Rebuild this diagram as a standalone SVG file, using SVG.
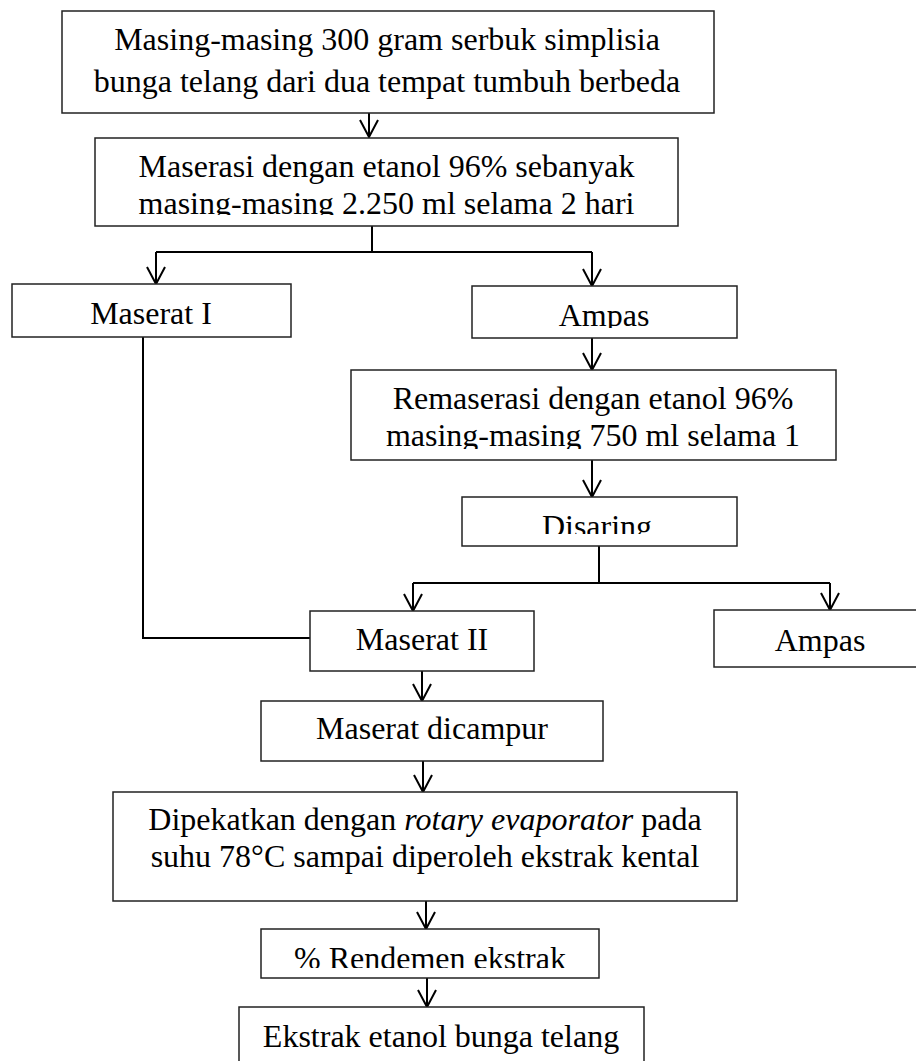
<svg xmlns="http://www.w3.org/2000/svg" width="916" height="1061" viewBox="0 0 916 1061">
<style>
.box{fill:#fff;stroke:#222;stroke-width:1.5}
.t{font-family:"Liberation Serif","Times New Roman",serif;font-size:32px;fill:#000;text-anchor:middle}
.c{fill:none;stroke:#000;stroke-width:2}
.a{marker-end:url(#arr)}
</style>
<defs>
<marker id="arr" markerUnits="userSpaceOnUse" viewBox="-19 -11 21 22" refX="0" refY="0" markerWidth="21" markerHeight="22" orient="auto">
<path d="M-17,-9 L0,0 L-17,9" fill="none" stroke="#000" stroke-width="2"/>
</marker>
<clipPath id="cb2"><rect x="95" y="138" width="583" height="77"/></clipPath>
<clipPath id="cam"><rect x="472" y="286" width="265" height="42"/></clipPath>
<clipPath id="crm"><rect x="351" y="370" width="485" height="79"/></clipPath>
<clipPath id="cds"><rect x="462" y="497" width="275" height="37"/></clipPath>
<clipPath id="crd"><rect x="261" y="929" width="338" height="39"/></clipPath>
</defs>
<rect width="916" height="1061" fill="#fff"/>
<g id="connectors">
<path class="c a" d="M369,113 V137"/>
<path class="c" d="M372,226 V252 M156,252 H592"/>
<path class="c a" d="M156,252 V284"/>
<path class="c a" d="M592,252 V286"/>
<path class="c a" d="M592,338 V370"/>
<path class="c a" d="M592,460 V497"/>
<path class="c" d="M599,546 V583 M413,583 H830"/>
<path class="c a" d="M413,583 V611"/>
<path class="c a" d="M830,583 V610"/>
<path class="c" d="M143,337 V638 H310"/>
<path class="c a" d="M422,671 V701"/>
<path class="c a" d="M423,761 V792"/>
<path class="c a" d="M426,901 V929"/>
<path class="c a" d="M427,978 V1007"/>
</g>
<g id="n1"><rect class="box" x="62" y="11" width="652" height="102"/>
<text class="t" x="387" y="50">Masing-masing 300 gram serbuk simplisia</text>
<text class="t" x="387" y="92">bunga telang dari dua tempat tumbuh berbeda</text></g>
<g id="n2"><rect class="box" x="95" y="138" width="583" height="88"/>
<g clip-path="url(#cb2)"><text class="t" x="386.5" y="177">Maserasi dengan etanol 96% sebanyak</text>
<text class="t" x="386.5" y="214">masing-masing 2.250 ml selama 2 hari</text></g></g>
<g id="n3"><rect class="box" x="12" y="284" width="279" height="53"/>
<text class="t" x="151" y="324">Maserat I</text></g>
<g id="n4"><rect class="box" x="472" y="286" width="265" height="52"/>
<g clip-path="url(#cam)"><text class="t" x="604" y="326">Ampas</text></g></g>
<g id="n5"><rect class="box" x="351" y="370" width="485" height="90"/>
<g clip-path="url(#crm)"><text class="t" x="593" y="409">Remaserasi dengan etanol 96%</text>
<text class="t" x="593" y="446">masing-masing 750 ml selama 1</text></g></g>
<g id="n6"><rect class="box" x="462" y="497" width="275" height="49"/>
<g clip-path="url(#cds)"><text class="t" x="597" y="537">Disaring</text></g></g>
<g id="n7"><rect class="box" x="310" y="611" width="224" height="60"/>
<text class="t" x="422" y="650">Maserat II</text></g>
<g id="n8"><rect class="box" x="714" y="610" width="220" height="57"/>
<text class="t" x="820" y="651">Ampas</text></g>
<g id="n9"><rect class="box" x="261" y="701" width="342" height="60"/>
<text class="t" x="432" y="739">Maserat dicampur</text></g>
<g id="n10"><rect class="box" x="113" y="792" width="624" height="109"/>
<text class="t" x="425" y="830">Dipekatkan dengan <tspan font-style="italic">rotary evaporator</tspan> pada</text>
<text class="t" x="425" y="867">suhu 78°C sampai diperoleh ekstrak kental</text></g>
<g id="n11"><rect class="box" x="261" y="929" width="338" height="49"/>
<g clip-path="url(#crd)"><text class="t" x="430" y="969">% Rendemen ekstrak</text></g></g>
<g id="n12"><rect class="box" x="239" y="1007" width="405" height="70"/>
<text class="t" x="441" y="1047">Ekstrak etanol bunga telang</text></g>
</svg>
